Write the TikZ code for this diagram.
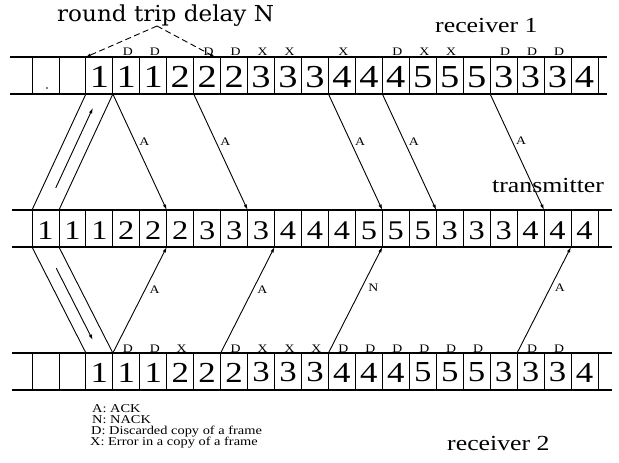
\documentclass[tikz,border=0pt]{standalone}
\usepackage{fontspec}
\setmainfont{Liberation Serif}[FakeStretch=1.2]
\newfontfamily\headfont{DejaVu Serif}[FakeStretch=1.05]
\usetikzlibrary{arrows.meta,calc}

\begin{document}
\begin{tikzpicture}[x=1pt,y=-1pt,
  rowline/.style={line width=1.1pt},
  cellline/.style={line width=0.9pt},
  digT/.style={inner sep=0pt,font=\fontsize{32}{32}\selectfont},
  digM/.style={inner sep=0pt,font=\fontsize{27}{27}\selectfont},
  digB/.style={inner sep=0pt,font=\fontsize{29}{29}\selectfont},
  slotmark/.style={anchor=base,inner sep=0pt,font=\fontsize{11.5}{12}\selectfont},
  msg/.style={line width=0.9pt,-{Latex[length=5.5pt,width=3.4pt]}},
  msglabel/.style={right,inner sep=1pt,xshift=3pt,font=\fontsize{11.5}{12}\selectfont},
  frameline/.style={line width=0.9pt},
  delay/.style={line width=0.9pt,dash pattern=on 6pt off 3.5pt,-{Latex[length=5pt,width=3.2pt]}},
  caption/.style={anchor=base west,inner sep=0pt,font=\fontsize{21.5}{24}\selectfont},
  legend/.style={anchor=base west,inner sep=0pt,font=\fontsize{12}{12}\selectfont}]

\useasboundingbox (0,0) rectangle (619,463);
\fill[white] (0,0) rectangle (619,463);

\def\xo{32}
\def\cw{26.95}
\def\rh{37}

% three slotted time lines: receiver 1, transmitter, receiver 2
\foreach \row/\ytop/\xl/\xr in {T/57/10/607, M/210/12/612, B/353/12/612}{
  \draw[rowline] (\xl,\ytop) -- (\xr,\ytop);
  \draw[rowline] (\xl,\ytop+\rh) -- (\xr,\ytop+\rh);
  \foreach \k in {0,...,21}{
    \coordinate (\row t\k) at (\xo+\k*\cw,\ytop);
    \coordinate (\row b\k) at (\xo+\k*\cw,\ytop+\rh);
    \draw[cellline] (\row t\k) -- (\row b\k);
  }
}

% frame numbers in the slots
\foreach \d [count=\i from 2] in {1,1,1,2,2,2,3,3,3,4,4,4,5,5,5,3,3,3,4}
  \node[digT] (td\i) at (\xo+\i*\cw+\cw/2,57+\rh/2+1.5) {\d};
\foreach \d [count=\i from 0] in {1,1,1,2,2,2,3,3,3,4,4,4,5,5,5,3,3,3,4,4,4}
  \node[digM] (md\i) at (\xo+\i*\cw+\cw/2,210+\rh/2+2) {\d};
\foreach \d [count=\i from 2] in {1,1,1,2,2,2,3,3,3,4,4,4,5,5,5,3,3,3,4}
  \node[digB] (bd\i) at (\xo+\i*\cw+\cw/2,353+\rh/2+1) {\d};
\fill (47,88) circle (0.8pt);

% D / X marks above the receiver slots
\foreach \k/\c in {3/D,4/D,6/D,7/D,8/X,9/X,11/X,13/D,14/X,15/X,17/D,18/D,19/D}
  \node[slotmark] (tm\k) at (\xo+\k*\cw+\cw/2+1.5,56) {\c};
\foreach \k/\c in {3/D,4/D,5/X,7/D,8/X,9/X,10/X,11/D,12/D,13/D,14/D,15/D,16/D,18/D,19/D}
  \node[slotmark] (bm\k) at (\xo+\k*\cw+\cw/2+1.5,352) {\c};

% first frame sent to both receivers
\draw[frameline] (Mt0) -- (Tb2);
\draw[frameline] (Mt1) -- (Tb3);
\coordinate (upS) at ($($(Mt0)!0.5!(Mt1)$)!0.19!($(Tb2)!0.5!(Tb3)$)$);
\coordinate (upE) at ($($(Mt0)!0.5!(Mt1)$)!0.88!($(Tb2)!0.5!(Tb3)$)$);
\draw[msg] (upS) -- (upE);
\draw[frameline] (Mb0) -- (Bt2);
\draw[frameline] (Mb1) -- (Bt3);
\coordinate (dnS) at ($($(Mb0)!0.5!(Mb1)$)!0.2!($(Bt2)!0.5!(Bt3)$)$);
\coordinate (dnE) at ($($(Mb0)!0.5!(Mb1)$)!0.877!($(Bt2)!0.5!(Bt3)$)$);
\draw[msg] (dnS) -- (dnE);

% acknowledgements from receiver 1
\draw[msg] (Tb3)  -- node[msglabel,pos=0.41] (a1) {A} (Mt5);
\draw[msg] (Tb6)  -- node[msglabel,pos=0.41] (a2) {A} (Mt8);
\draw[msg] (Tb11) -- node[msglabel,pos=0.41] (a3) {A} (Mt13);
\draw[msg] (Tb13) -- node[msglabel,pos=0.41] (a4) {A} (Mt15);
\draw[msg] (Tb17) -- node[msglabel,pos=0.40] (a5) {A} (Mt19);

% acknowledgements from receiver 2
\draw[msg] (Bt3)  -- node[msglabel,pos=0.6] (b1) {A} (Mb5);
\draw[msg] (Bt7)  -- node[msglabel,pos=0.6] (b2) {A} (Mb9);
\draw[msg] (Bt11) -- node[msglabel,pos=0.62,xshift=2pt] (b3) {N} (Mb13);
\draw[msg] (Bt18) -- node[msglabel,pos=0.62] (b4) {A} (Mb20);

% round trip delay
\node[anchor=base west,inner sep=0pt,font=\headfont\fontsize{22}{26}\selectfont] (rtd) at (57,21) {round trip delay N};
\coordinate (apex) at (157,26);
\coordinate (rtdEnd) at (215,57);
\draw[delay] (apex) -- (Tt2);
\draw[delay] (apex) -- (rtdEnd);

% captions
\node[caption] (rx1) at (435,32) {receiver 1};
\node[caption] (tx) at (492,192) {transmitter};
\node[caption] (rx2) at (447,450) {receiver 2};

% legend
\node[legend] (leg1) at (92,412) {A: ACK};
\node[legend] (leg2) at (92,423) {N: NACK};
\node[legend] (leg3) at (91,434) {D: Discarded copy of a frame};
\node[legend] (leg4) at (90,445) {X: Error in a copy of a frame};
\end{tikzpicture}
\end{document}
